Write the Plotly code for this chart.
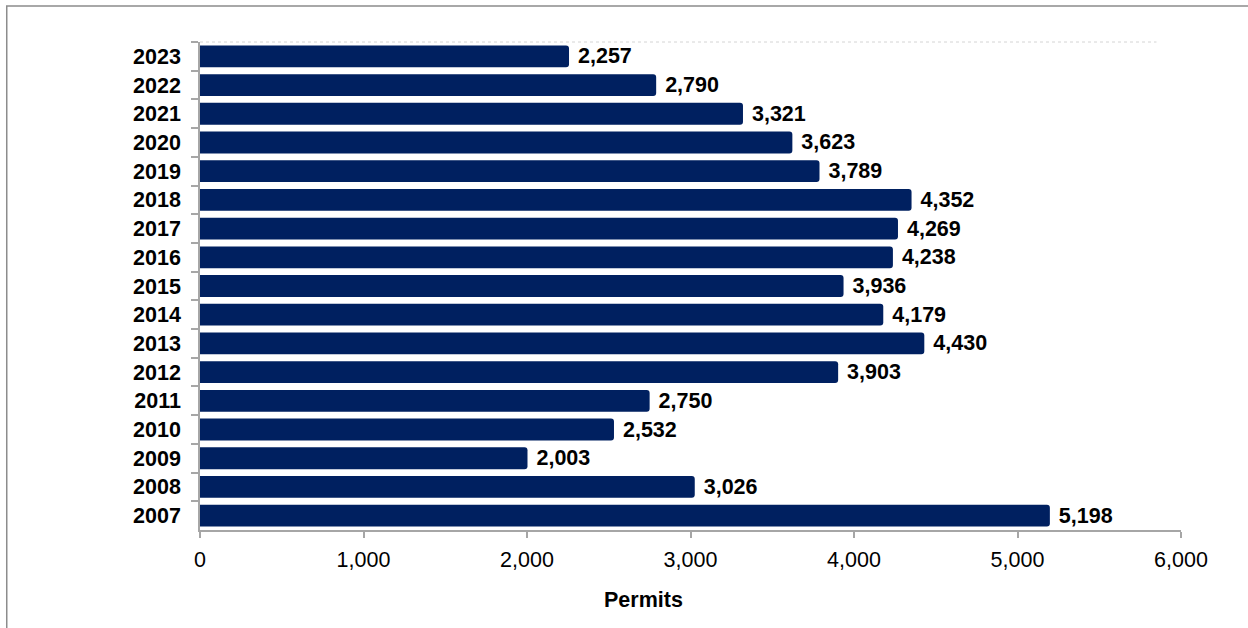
import plotly.graph_objects as go

years = ["2023", "2022", "2021", "2020", "2019", "2018", "2017", "2016", "2015",
         "2014", "2013", "2012", "2011", "2010", "2009", "2008", "2007"]
permits = [2257, 2790, 3321, 3623, 3789, 4352, 4269, 4238, 3936,
           4179, 4430, 3903, 2750, 2532, 2003, 3026, 5198]
x_ticks = [0, 1000, 2000, 3000, 4000, 5000, 6000]
x_tick_labels = ["0", "1,000", "2,000", "3,000", "4,000", "5,000", "6,000"]
x_title = "Permits"

FONT = "Liberation Sans, Arial, sans-serif"
FS = 21.5

fig = go.Figure(go.Bar(
    x=permits, y=years, orientation="h",
    marker=dict(color="#002060", cornerradius=3, line=dict(width=0)),
    text=["\u00a0" + f"{v:,}" for v in permits],
    textposition="outside", cliponaxis=False, constraintext="none",
    textfont=dict(family=FONT, size=FS, color="#000000", weight="bold"),
    hoverinfo="skip",
))

fig.update_layout(
    width=1248, height=628,
    margin=dict(l=200, r=67, t=42, b=98),
    paper_bgcolor="white", plot_bgcolor="white",
    bargap=0.24, showlegend=False,
    uniformtext=dict(mode=False),
    font=dict(family=FONT, color="#000000"),
    xaxis=dict(
        range=[0, 6000], tickvals=x_ticks, ticktext=x_tick_labels,
        showgrid=False, zeroline=False,
        showline=True, linecolor="#a6a6a6", linewidth=1.5,
        ticks="outside", ticklen=6, tickcolor="#a6a6a6", tickwidth=1.5,
        ticklabelstandoff=3,
        tickfont=dict(family=FONT, size=FS, color="#000000"),
    ),
    yaxis=dict(
        type="category", autorange="reversed",
        showgrid=False, zeroline=False,
        showline=True, linecolor="#a6a6a6", linewidth=1.5,
        ticks="outside", tickson="boundaries", ticklen=7, tickcolor="#a6a6a6", tickwidth=1.5,
        ticklabelstandoff=13,
        tickfont=dict(family=FONT, size=FS, color="#000000", weight="bold"),
    ),
    annotations=[
        dict(text=x_title, xref="paper", yref="paper", x=0.4516, y=-0.143,
             xanchor="center", yanchor="middle", showarrow=False,
             font=dict(family=FONT, size=FS, color="#000000", weight="bold")),
    ],
    shapes=[
        dict(type="rect", xref="paper", yref="paper", x0=-0.197, x1=1.2, y0=-0.3, y1=1.074,
             line=dict(color="#8c8c8c", width=1.5), layer="below"),
        dict(type="line", xref="x", yref="paper", x0=0, x1=5850, y0=1, y1=1,
             line=dict(color="#d4d4d4", width=1, dash="dot")),
    ],
)

fig.write_html("out.html")
